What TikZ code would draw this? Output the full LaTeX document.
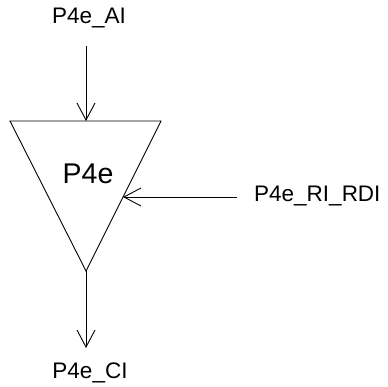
\documentclass[tikz,border=0pt]{standalone}
\usepackage{fontspec}
\setmainfont{Liberation Sans}
\usetikzlibrary{arrows.meta}
\begin{document}
\begin{tikzpicture}[x=1pt,y=-1pt,
  lbl/.style={font=\fontsize{22.5}{26}\selectfont, inner sep=0pt},
  big/.style={font=\fontsize{28.5}{32}\selectfont, inner sep=0pt},
  conn/.style={line width=0.9pt, -{Straight Barb[length=17pt,width=18pt,line width=0.9pt]}},
  tri/.style={line width=0.9pt, line join=miter}]
\useasboundingbox (0,0) rectangle (387,387);
\coordinate (tl) at (10,121);
\coordinate (tr) at (161,121);
\coordinate (apex) at (86,271);
\coordinate (topin) at (86,121);
\coordinate (sidein) at (123,197);
\draw[tri] (tl) -- (tr) -- (apex) -- cycle;
\node[big] (p4e) at (88,174) {P4e};
\node[lbl] (ai) at (89,18) {P4e\_AI};
\node[lbl, anchor=west] (ri) at (254,196) {P4e\_RI\_RDI};
\node[lbl] (ci) at (90,373) {P4e\_CI};
\coordinate (aiend) at (86,46);
\coordinate (riend) at (237,197);
\coordinate (ciend) at (86,348);
\draw[conn] (aiend) -- (topin);
\draw[conn] (riend) -- (sidein);
\draw[conn] (apex) -- (ciend);
\end{tikzpicture}
\end{document}
